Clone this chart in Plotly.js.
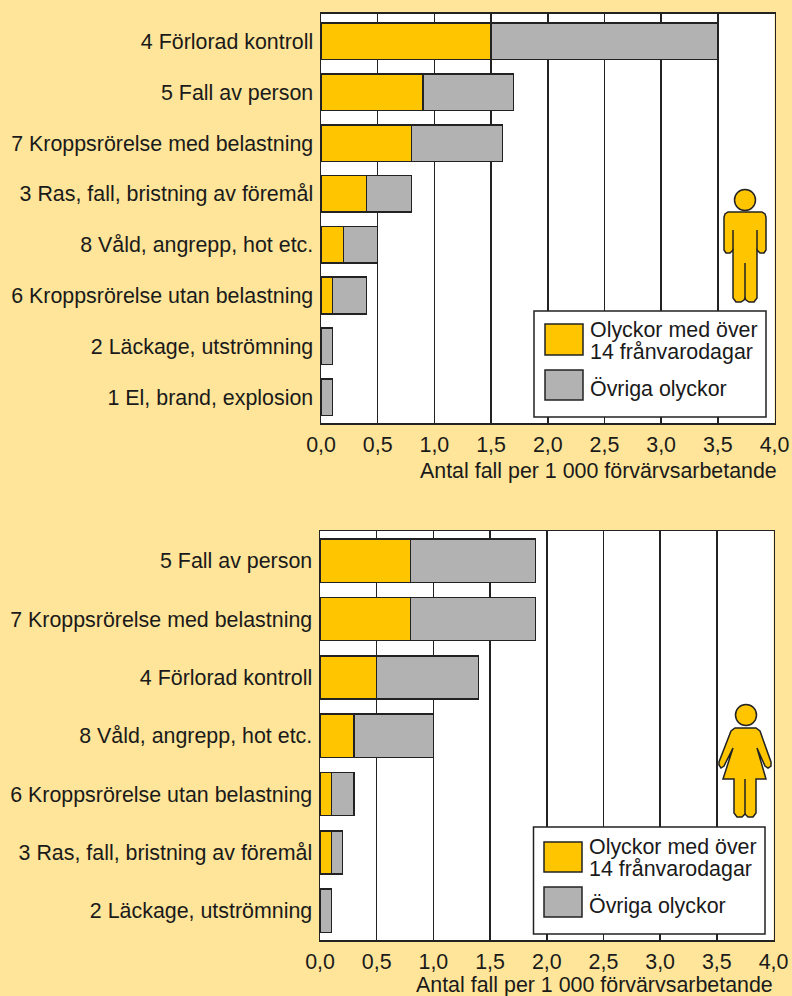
<!DOCTYPE html>
<html><head><meta charset="utf-8">
<script src="https://cdn.plot.ly/plotly-3.0.1.min.js"></script>
<style>html,body{margin:0;padding:0;background:#FEE599}</style></head>
<body><div id="chart" style="width:792px;height:996px"></div>
<script>
const menCategories = ["4 Förlorad kontroll","5 Fall av person","7 Kroppsrörelse med belastning","3 Ras, fall, bristning av föremål","8 Våld, angrepp, hot etc.","6 Kroppsrörelse utan belastning","2 Läckage, utströmning","1 El, brand, explosion"];
const menOver14 = [1.5,0.9,0.8,0.4,0.2,0.1,0,0];
const menOther = [2.0,0.8,0.8,0.4,0.3,0.3,0.1,0.1];
const womenCategories = ["5 Fall av person","7 Kroppsrörelse med belastning","4 Förlorad kontroll","8 Våld, angrepp, hot etc.","6 Kroppsrörelse utan belastning","3 Ras, fall, bristning av föremål","2 Läckage, utströmning"];
const womenOver14 = [0.8,0.8,0.5,0.3,0.1,0.1,0];
const womenOther = [1.1,1.1,0.9,0.7,0.2,0.1,0.1];
const xTicks = [0,0.5,1,1.5,2,2.5,3,3.5,4];
const legendOver14Line1 = "Olyckor med över";
const legendOver14Line2 = "14 frånvarodagar";
const legendOther = "Övriga olyckor";
const axisTitle = "Antal fall per 1 000 förvärvsarbetande";

const W=792,H=996, BG="#FEE599", ORANGE="#FFC600", GRAY="#B2B2B2", INK="#1a1a1a", FONT="'Liberation Sans', Arial, sans-serif", FS=21.4;
const px=x=>x/W, py=y=>1-y/H;
const BW={y:0.72,y2:0.74};
const bar=(cats,vals,col,name,xa,ya)=>({type:"bar",orientation:"h",y:cats,x:vals,name,xaxis:xa,yaxis:ya,width:BW[ya],
  marker:{color:col,line:{color:"#222",width:1.5}},showlegend:false,hoverinfo:"x+y"});
const data=[
  bar(menCategories,menOver14,ORANGE,"Olyckor med över 14 frånvarodagar","x","y"),
  bar(menCategories,menOther,GRAY,"Övriga olyckor","x","y"),
  bar(womenCategories,womenOver14,ORANGE,"Olyckor med över 14 frånvarodagar","x2","y2"),
  bar(womenCategories,womenOther,GRAY,"Övriga olyckor","x2","y2")
];
const xAxis=(x0,x1,anchor)=>({domain:[px(x0),px(x1)],range:[0,4],anchor,tickvals:xTicks,tickformat:".1f",
  showgrid:true,gridcolor:"#222",gridwidth:1.5,zeroline:false,showline:true,linecolor:"#222",linewidth:1.5,mirror:true,
  ticks:"",ticklabelstandoff:2,tickfont:{family:FONT,size:FS,color:INK},layer:"below traces"});
const yAxis=(y0,y1,anchor,range,cats)=>({domain:[py(y1),py(y0)],range,anchor,type:"category",categoryorder:"array",categoryarray:cats,
  showgrid:false,zeroline:false,showline:true,linecolor:"#222",linewidth:1.5,mirror:true,ticks:"",ticklabelstandoff:2,
  tickfont:{family:FONT,size:FS,color:INK}});

const rectPx=(x0,y0,x1,y1,fill,w)=>({type:"rect",xref:"paper",yref:"paper",x0:px(x0),x1:px(x1),y0:py(y1),y1:py(y0),
  fillcolor:fill,line:{color:"#222",width:w||1.5},layer:"above"});
const circlePx=(cx,cy,r)=>({type:"circle",xref:"paper",yref:"paper",x0:px(cx-r),x1:px(cx+r),y0:py(cy+r),y1:py(cy-r),
  fillcolor:ORANGE,line:{color:"#222",width:1.5},layer:"above"});
const pathPx=(pts,fill,close)=>({type:"path",xref:"paper",yref:"paper",
  path:pts.map((p,i)=>(i?"L":"M")+px(p[0])+","+py(p[1])).join(" ")+(close?" Z":""),
  fillcolor:fill||"rgba(0,0,0,0)",line:{color:"#222",width:1.5},layer:"above"});

const man=[
  pathPx([[728,212],[762,212],[765,214],[766,217],[766,250],[764,253],[760,253],[757,250],[757,298],[754,302],[749,302],[746,300],[745,298],
          [744,300],[741,302],[736,302],[733,298],[733,250],[730,253],[726,253],[724,250],[724,217],[725,214]],ORANGE,true),
  pathPx([[733,230],[733,250]]),pathPx([[757,230],[757,250]]),pathPx([[745,263],[745,298]]),
  circlePx(745,200,10.5)
];
const woman=[
  pathPx([[735,728],[756,728],[760,731],[771,762],[771,766],[768,768],[765,766],[757,748],[766,779],[756,779],[756,813],[753,817],[748,817],[745,814],
          [742,817],[737,817],[734,813],[734,779],[723,779],[733,748],[724,766],[721,768],[719,765],[719,762],[731,731]],ORANGE,true),
  pathPx([[745,779],[745,814]]),
  circlePx(746,715,10.5)
];
const shapes=[
  rectPx(534,311,766,417,"#fff"),rectPx(545,324,583,355,ORANGE),rectPx(545,370,583,400,GRAY),
  rectPx(533.5,827,765,934,"#fff"),rectPx(544,842,582,872,ORANGE),rectPx(544,887,582,917,GRAY),
  ...man,...woman
];
const ann=(x,y,text,xanchor)=>({xref:"paper",yref:"paper",x:px(x),y:py(y),text,xanchor,yanchor:"middle",showarrow:false,
  align:xanchor,font:{family:FONT,size:FS,color:INK}});
const annotations=[
  ann(588,330,legendOver14Line1,"left"),ann(588,352,legendOver14Line2,"left"),ann(588,389,legendOther,"left"),ann(779,471,axisTitle,"right"),
  ann(587,847,legendOver14Line1,"left"),ann(587,869,legendOver14Line2,"left"),ann(587,906,legendOther,"left"),ann(775,985,axisTitle,"right")
];
const layout={width:W,height:H,margin:{l:0,r:0,t:0,b:0},paper_bgcolor:BG,plot_bgcolor:"#fff",barmode:"stack",separators:", ",
  font:{family:FONT,size:FS,color:INK},showlegend:false,
  xaxis:xAxis(321,774.5,"y"),yaxis:yAxis(13.5,423,"x",[7.51,-0.55],menCategories),
  xaxis2:xAxis(320,773.5,"y2"),yaxis2:yAxis(531,940,"x2",[6.5,-0.51],womenCategories),
  shapes,annotations};
Plotly.newPlot("chart",data,layout,{displayModeBar:false,staticPlot:true});
</script></body></html>
